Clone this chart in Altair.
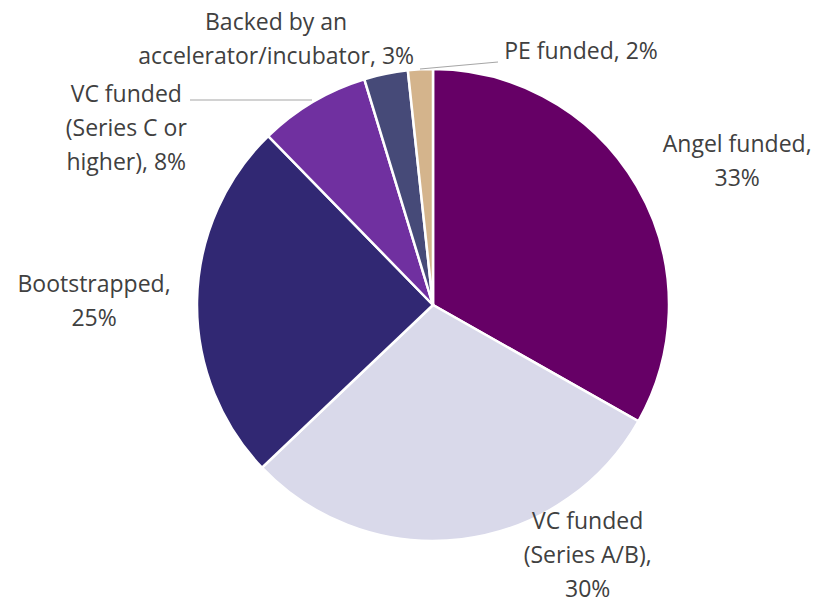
import altair as alt
import pandas as pd

categories = ["Angel funded", "VC funded (Series A/B)", "Bootstrapped",
              "VC funded (Series C or higher)", "Backed by an accelerator/incubator", "PE funded"]
# slice shares (labels show the rounded figures)
values = [33.2, 29.7, 24.8, 7.6, 3.0, 1.7]
labels = ["Angel funded,\n33%", "VC funded\n(Series A/B),\n30%", "Bootstrapped,\n25%",
          "VC funded\n(Series C or\nhigher), 8%", "Backed by an\naccelerator/incubator, 3%",
          "PE funded, 2%"]
colors = ["#660066", "#d9d9ea", "#312873", "#7030a0", "#464a78", "#d4b48c"]

df = pd.DataFrame({"cat": categories, "val": values, "label": labels,
                   "idx": list(range(len(values)))})

CX, CY, R = 425, 297, 236
LR = 300
FONT = "Open Sans"
TXT = "#404040"

pie = alt.Chart(df).mark_arc(outerRadius=R, stroke="white", strokeWidth=2.5).encode(
    theta=alt.Theta("val:Q", stack=True),
    order=alt.Order("idx:Q"),
    x=alt.value(CX), y=alt.value(CY),
    color=alt.Color("cat:N", scale=alt.Scale(domain=categories, range=colors), legend=None),
)

# label anchor = slice mid-angle at radius LR, computed from the data
lab_base = alt.Chart(df).transform_joinaggregate(
    total="sum(val)"
).transform_window(
    cum="sum(val)", sort=[alt.SortField("idx")], frame=[None, 0]
).transform_calculate(
    mid="(datum.cum - datum.val/2) / datum.total * 2 * PI",
).transform_calculate(
    px=f"{CX} + {LR} * sin(datum.mid)",
    py=f"{CY} - {LR} * cos(datum.mid)",
)

# per-label nudges (dx, dy) mimicking the reference's label positions
nudge = {
    "Angel funded": (45, -9),
    "VC funded (Series A/B)": (118, -81),
    "Bootstrapped": (-39, -14),
    "VC funded (Series C or higher)": (-154, 48),
    "Backed by an accelerator/incubator": (-97, 12),
    "PE funded": (164, 47),
}

text_layers = []
for c in categories:
    dx, dy = nudge[c]
    t = lab_base.transform_filter(alt.datum.cat == c).mark_text(
        dx=dx, dy=dy, font=FONT, fontSize=23, color=TXT,
        lineBreak="\n", lineHeight=34, align="center", baseline="middle").encode(
        x=alt.X("px:Q", scale=None), y=alt.Y("py:Q", scale=None),
        text="label:N",
    )
    text_layers.append(t)

one = pd.DataFrame({"a": [0]})
lead1 = alt.Chart(one).mark_rule(color="#a6a6a6", strokeWidth=1.2).encode(
    x=alt.value(182), x2=alt.value(304), y=alt.value(92), y2=alt.value(92))
lead2 = alt.Chart(one).mark_rule(color="#a6a6a6", strokeWidth=1.2).encode(
    x=alt.value(412), x2=alt.value(490), y=alt.value(61), y2=alt.value(54))

chart = alt.layer(pie, lead1, lead2, *text_layers).properties(
    width=811, height=590, padding=0, autosize=alt.AutoSizeParams(type="none"),
).configure_view(stroke=None)

chart.save("out.html", embed_options={"renderer": "svg", "actions": False})
